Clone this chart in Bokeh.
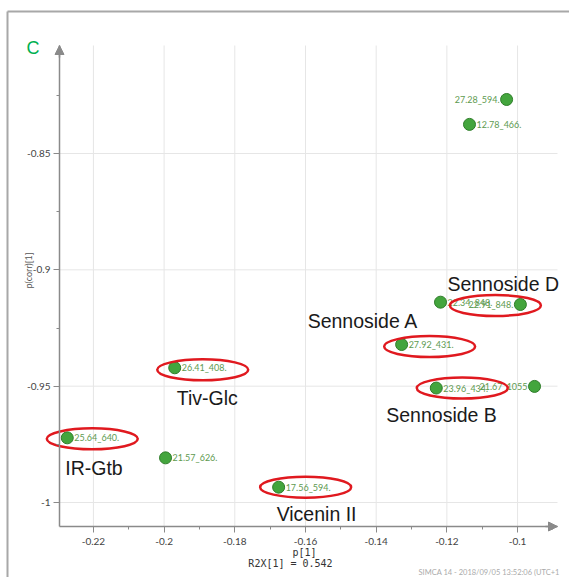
import math
from bokeh.plotting import figure
from bokeh.models import (ColumnDataSource, Range1d, FixedTicker, CustomJSTickFormatter,
                          Label, Arrow, NormalHead)
from bokeh.core.properties import value
from bokeh.embed import file_html
from bokeh.resources import INLINE

# ---------------- data ----------------
feature_ids = ["27.28_594.", "12.78_466.", "22.34_848.", "22.91_848.", "27.92_431.",
               "23.96_434.", "21.67_1055", "26.41_408.", "25.64_640.", "21.57_626.",
               "17.56_594."]
p1 = [-0.1031, -0.1136, -0.1218, -0.0992, -0.1328, -0.1230, -0.0952, -0.1970,
      -0.2274, -0.1996, -0.1676]
pcorr1 = [-0.8268, -0.8375, -0.9139, -0.9149, -0.9321, -0.9508, -0.9501, -0.9421,
          -0.9722, -0.9808, -0.9934]
label_side = ["left", "right", "right", "left", "right", "right", "left", "right",
              "right", "right", "right"]

compound_names = ["Sennoside D", "Sennoside A", "Sennoside B", "Tiv-Glc", "IR-Gtb", "Vicenin II"]
compound_point = [3, 4, 5, 7, 8, 10]

x_ticks = [-0.22, -0.2, -0.18, -0.16, -0.14, -0.12, -0.1]
y_ticks = [-1.0, -0.95, -0.9, -0.85]
x_minor = [-0.21, -0.19, -0.17, -0.15, -0.13, -0.11, -0.09]
y_minor = [-0.975, -0.925, -0.875, -0.825]

r2x = 0.542

# ---------------- layout ----------------
W, H = 569, 577
X0, X1 = -0.2296, -0.0887      # axis extent
Y0, Y1 = -1.0103, -0.8036
AX_L, AX_R, AX_T, AX_B = 59, 557, 45, 526   # axis extent in pixels
ux = (X1 - X0) / (AX_R - AX_L)
uy = (Y1 - Y0) / (AX_B - AX_T)
XS = X0 - AX_L * ux
XE = XS + W * ux
YE = Y1 + AX_T * uy
YS = YE - H * uy

def dx(px):
    return XS + px * ux

def dy(py):
    return YE - py * uy

p = figure(width=W, height=H, output_backend="svg", toolbar_location=None,
           x_range=Range1d(XS, XE), y_range=Range1d(YS, YE), min_border=0)
p.background_fill_color = "white"
p.border_fill_color = "white"
p.outline_line_color = None
p.grid.visible = False

# grid lines (only inside the axis box)
p.segment(x0=x_ticks, x1=x_ticks, y0=[Y0] * len(x_ticks), y1=[Y1] * len(x_ticks),
          line_color="#e6e6e6", line_width=1)
p.segment(x0=[X0] * len(y_ticks), x1=[X1] * len(y_ticks), y0=y_ticks, y1=y_ticks,
          line_color="#e6e6e6", line_width=1)

fmt = CustomJSTickFormatter(code="return String(+tick.toFixed(2));")
for ax, ticks, minor in ((p.xaxis[0], x_ticks, x_minor), (p.yaxis[0], y_ticks, y_minor)):
    ax.ticker = FixedTicker(ticks=ticks, minor_ticks=minor)
    ax.formatter = fmt
    ax.axis_line_color = "#8a8a8a"
    ax.axis_line_width = 1.5
    ax.major_tick_line_color = "#8a8a8a"
    ax.minor_tick_line_color = "#8a8a8a"
    ax.major_tick_in = 0
    ax.major_tick_out = 6
    ax.minor_tick_in = 0
    ax.minor_tick_out = 3
    ax.major_label_text_font = "Lato"
    ax.major_label_text_font_size = "10px"
    ax.major_label_text_color = "#444444"
p.xaxis.fixed_location = Y0
p.xaxis.bounds = (X0, X1)
p.yaxis.fixed_location = X0
p.yaxis.bounds = (Y0, Y1)
p.yaxis.major_label_standoff = 3
p.xaxis.major_label_standoff = 5

# axis arrows
head_kw = dict(size=9, fill_color="#8a8a8a", line_color="#8a8a8a")
p.add_layout(Arrow(end=NormalHead(**head_kw), x_start=X0, y_start=Y1 - 12 * uy,
                   x_end=X0, y_end=Y1, line_color="#8a8a8a", line_width=1.5))
p.add_layout(Arrow(end=NormalHead(**head_kw), x_start=X1 - 12 * ux, y_start=Y0,
                   x_end=X1, y_end=Y0, line_color="#8a8a8a", line_width=1.5))

# points
src = ColumnDataSource(dict(x=p1, y=pcorr1, t=feature_ids))
p.scatter("x", "y", source=src, size=12, fill_color="#43a53d", line_color="#2f7d2a",
          line_width=1)

# feature labels
for i, t in enumerate(feature_ids):
    left = label_side[i] == "left"
    p.text(x=[p1[i]], y=[pcorr1[i]], text=[t], x_offset=-7 if left else 7,
           text_align="right" if left else "left", text_baseline="middle",
           text_font=value("Lato"), text_font_size="9px", text_color="#5e9a50")

# red ellipses and compound names
ell_dx = [-25, 28, 26, 28, 25, 27]
ell_dy = [1, 2, 0, 2, 1, 0]
name_dx = [-73, -94, -50, 2, -2, -2]
name_dy = [-21, -24, 27, 30, 30, 27]
for k, name in enumerate(compound_names):
    i = compound_point[k]
    p.ellipse(x=[p1[i] + ell_dx[k] * ux], y=[pcorr1[i] - ell_dy[k] * uy],
              width=91, height=21, width_units="screen", height_units="screen",
              fill_color=None, line_color="#e0191f", line_width=2.5)
    p.text(x=[p1[i]], y=[pcorr1[i]], text=[name], x_offset=name_dx[k], y_offset=name_dy[k],
           text_align="left", text_baseline="middle",
           text_font=value("Liberation Sans"), text_font_size="19.5px", text_color="#1a1a1a")

# outer texts
p.add_layout(Label(x=dx(26), y=dy(47), text="C", text_baseline="middle",
                   text_font="Liberation Sans", text_font_size="18px", text_color="#00b050"))
p.add_layout(Label(x=dx(28), y=dy(270), text="p(corr)[1]", angle=math.pi / 2,
                   text_align="center", text_baseline="middle",
                   text_font="Lato", text_font_size="9px", text_color="#555555"))
p.add_layout(Label(x=dx(304), y=dy(552), text="p[1]", text_align="center",
                   text_baseline="middle", text_font="DejaVu Sans Mono",
                   text_font_size="10px", text_color="#333333"))
p.add_layout(Label(x=dx(290), y=dy(563), text=f"R2X[1] = {r2x}", text_align="center",
                   text_baseline="middle", text_font="DejaVu Sans Mono",
                   text_font_size="10px", text_color="#333333"))
p.add_layout(Label(x=dx(418), y=dy(572), text="SIMCA 14 - 2018/09/05 13:52:06 (UTC+1",
                   text_baseline="middle", text_font="Lato", text_font_size="7.5px",
                   text_color="#aaaaaa"))
# outer frame lines
p.add_layout(Arrow(end=None, x_start=dx(7), y_start=dy(11), x_end=dx(W), y_end=dy(11),
                   line_color="#a8a8a8", line_width=2))
p.add_layout(Arrow(end=None, x_start=dx(7), y_start=dy(11), x_end=dx(7), y_end=dy(H),
                   line_color="#a8a8a8", line_width=2))

open("out.html", "w").write(file_html(p, INLINE))
